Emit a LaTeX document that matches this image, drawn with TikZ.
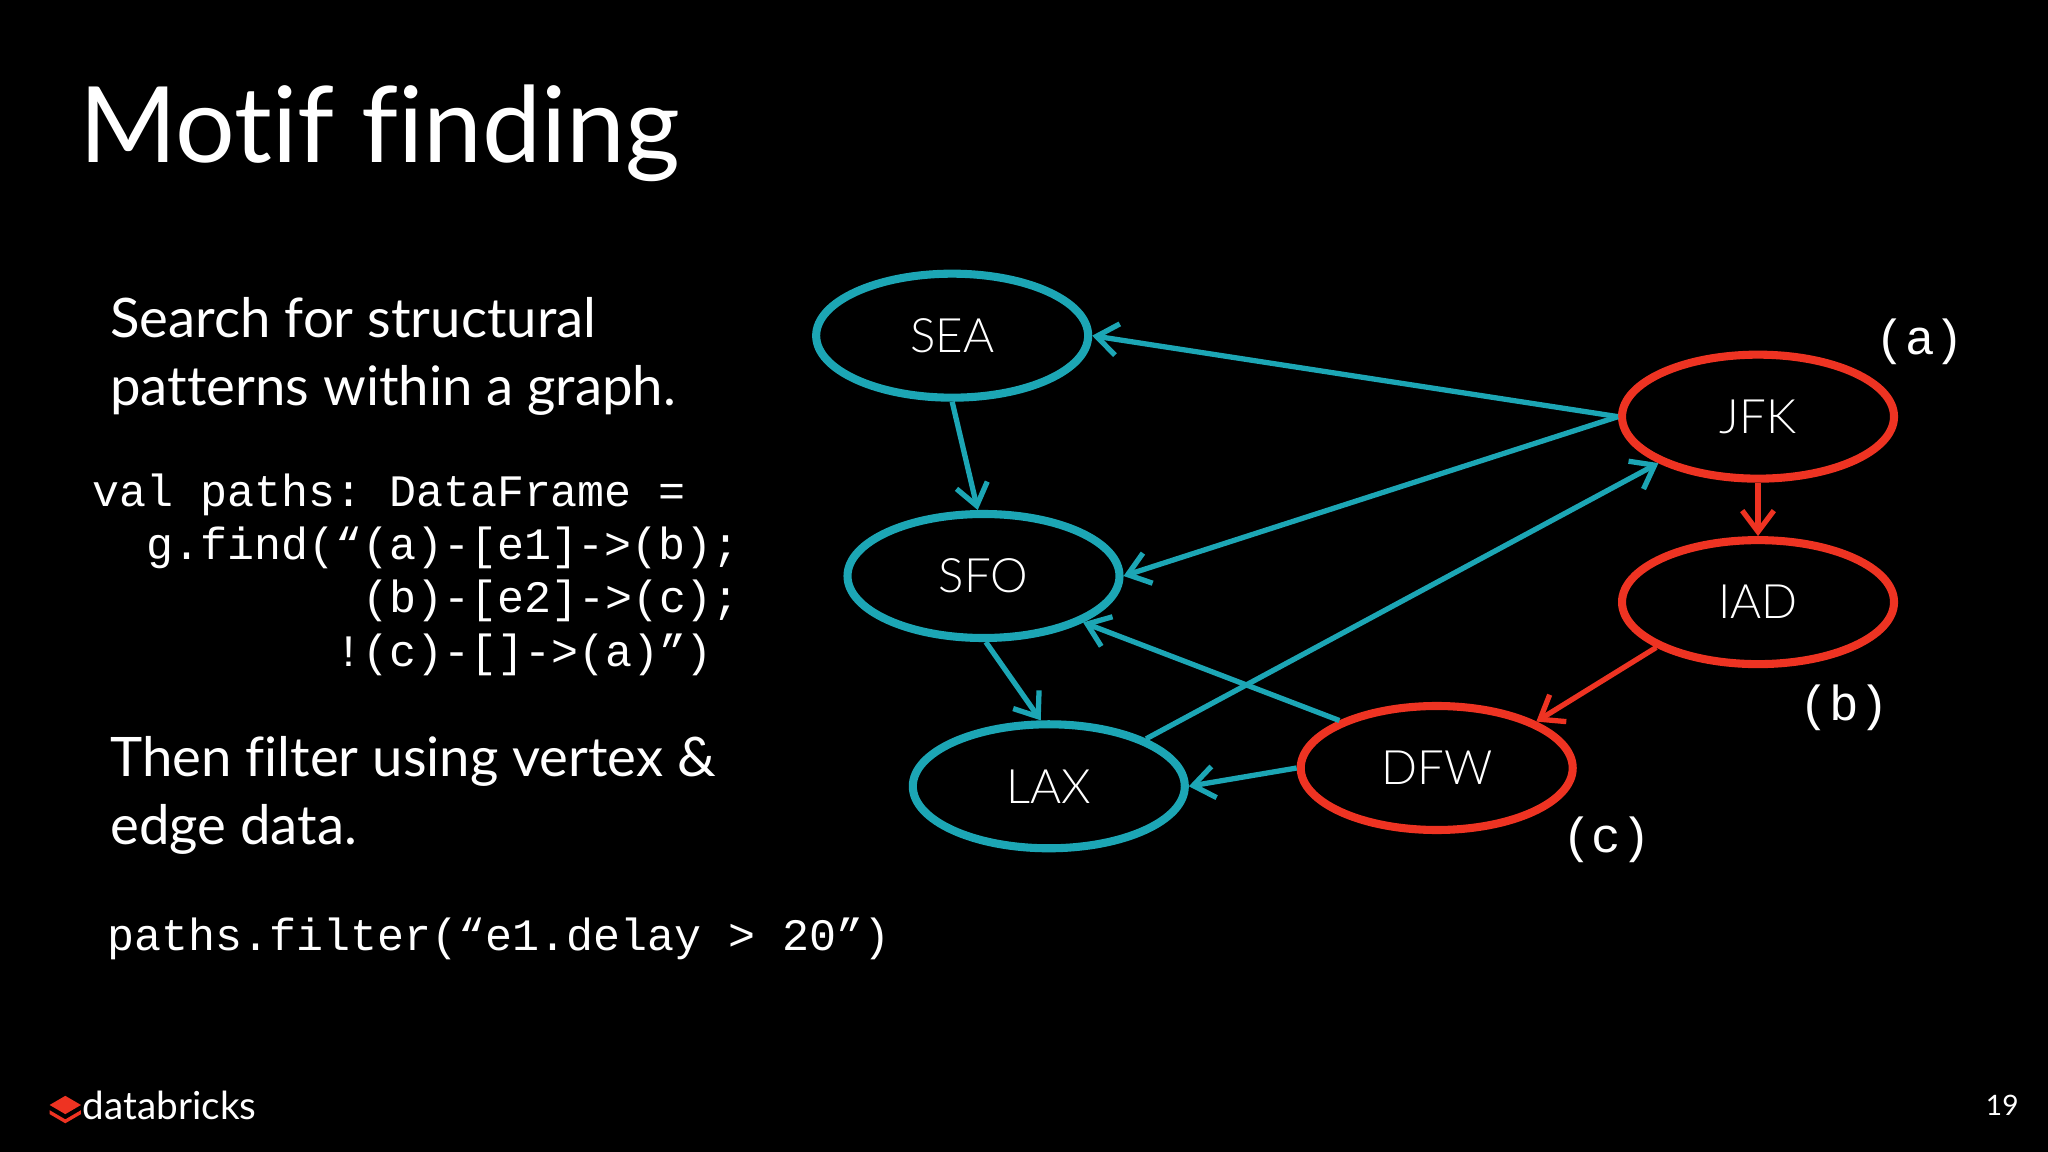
\documentclass[tikz,border=0pt]{standalone}
\usepackage{fontspec}
\setmainfont{Lato}[Ligatures=NoCommon]
\setmonofont{Liberation Mono}
\usetikzlibrary{shapes.geometric,arrows.meta}
\definecolor{teal}{HTML}{1CA6B5}
\definecolor{rd}{HTML}{EE3322}
\tikzset{
 apt/.style={ellipse,draw=#1,line width=2.3pt,minimum width=2.72cm,minimum height=1.24cm,text=white,font=\fontsize{13.5}{16}\selectfont\fontspec{Lato Light}},
 edge/.style={draw=#1,line width=1.5pt,-{Straight Barb[length=6pt,width=9pt,line width=1.5pt]}},
 lbl/.style={text=white,font=\fontsize{14}{16}\selectfont\ttfamily},
 body/.style={text=white,font=\fontsize{15.5}{19.5}\selectfont,align=left,anchor=north west,inner sep=0pt},
 code/.style={text=white,font=\fontsize{12.8}{15.2}\selectfont\ttfamily,align=left,anchor=north west,inner sep=0pt}
}
\begin{document}
\begin{tikzpicture}[x=0.01306cm,y=-0.01306cm]
\fill[black] (0,0) rectangle (1568,882);
\useasboundingbox (0,0) rectangle (1568,882);
\node[text=white,anchor=west,inner sep=0pt,font=\fontsize{30}{34}\selectfont] (title) at (60,102) {Motif finding};
\node[body] (t1) at (84,227) {Search for structural\\patterns within a graph.};
\node[code] (c1) at (70,362) {val paths: DataFrame =\\
\ \ g.find(“(a)-[e1]->(b);\\
\ \ \ \ \ \ \ \ \ \ (b)-[e2]->(c);\\
\ \ \ \ \ \ \ \ \ !(c)-[]->(a)”)};
\node[body] (t2) at (84,563) {Then filter using vertex \&\\edge data.};
\node[code] (c2) at (82,702) {paths.filter(“e1.delay > 20”)};
\node[apt=teal] (sea) at (729,257) {SEA};
\node[apt=teal] (sfo) at (753,441) {SFO};
\node[apt=teal] (lax) at (803,602) {LAX};
\node[apt=rd] (jfk) at (1346,319) {JFK};
\node[apt=rd] (iad) at (1346,461) {IAD};
\node[apt=rd] (dfw) at (1100,588) {DFW};
\draw[edge=teal] (jfk.west) -- (sea.east);
\draw[edge=teal] (sea.south) -- (sfo.95);
\draw[edge=teal] (jfk.west) -- (sfo.east);
\draw[edge=teal] (sfo.-88) -- (lax.97);
\draw[edge=teal] (lax.26) -- (jfk.205);
\draw[edge=teal] (dfw.154) -- (sfo.-25);
\draw[edge=teal] (dfw.west) -- (lax.east);
\draw[edge=rd] (jfk.south) -- (iad.north);
\draw[edge=rd] (iad.-156) -- (dfw.25);
\node[lbl] (la) at (1470,262) {(a)};
\node[lbl] (lb) at (1412,542) {(b)};
\node[lbl] (lc) at (1230,643) {(c)};
\fill[rd] (38,846) -- (50,839) -- (62,846) -- (50,853) -- cycle;
\fill[rd] (38,850) -- (50,857) -- (62,850) -- (62,853) -- (50,860) -- (38,853) -- cycle;
\node[text=white,anchor=west,inner sep=0pt,font=\fontsize{11}{13}\selectfont] (logo) at (63,846) {databricks};
\node[text=white,inner sep=0pt,font=\fontsize{8}{10}\selectfont] (pg) at (1533,846) {19};
\end{tikzpicture}
\end{document}
